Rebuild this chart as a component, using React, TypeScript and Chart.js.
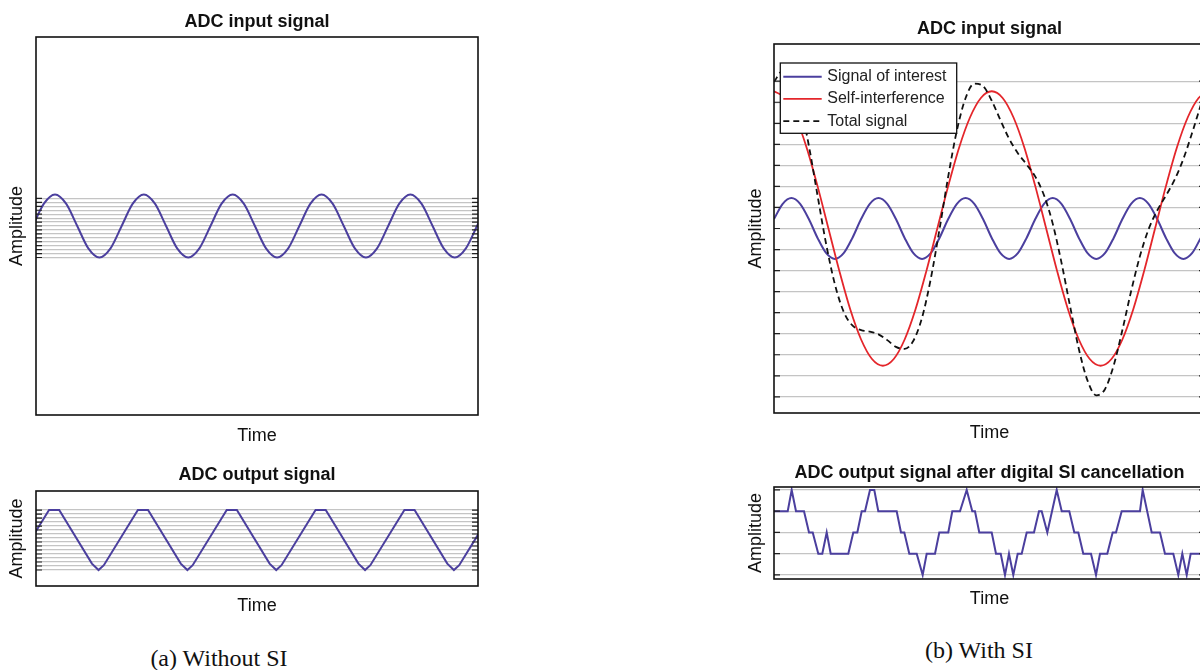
import React, { useEffect, useRef } from 'react';
import { Chart, registerables } from 'chart.js';

Chart.register(...registerables);

// ---------------- DATA ----------------
// (a) ADC input signal (time 0..100 across the plot)
const inputTime = [-0.73, 1.79, 4.3, 6.81, 9.33, 11.84, 14.35, 16.86, 19.38, 21.89, 24.4, 26.91, 29.43, 31.94, 34.45, 36.96, 39.48, 41.99, 44.5, 47.01, 49.53, 52.04, 54.55, 57.06, 59.58, 62.09, 64.6, 67.11, 69.63, 72.14, 74.65, 77.16, 79.68, 82.19, 84.7, 87.21, 89.73, 92.24, 94.75, 97.26, 99.78, 102.29];
const inputAmp = [0, 0.71, 1, 0.71, 0, -0.71, -1, -0.71, 0, 0.71, 1, 0.71, 0, -0.71, -1, -0.71, 0, 0.71, 1, 0.71, 0, -0.71, -1, -0.71, 0, 0.71, 1, 0.71, 0, -0.71, -1, -0.71, 0, 0.71, 1, 0.71, 0, -0.71, -1, -0.71, 0, 0.71];

// (a) ADC output signal
const outputTime = [-7.45, -5.95, -4.75, 2.95, 5.25, 12.65, 14.15, 15.35, 23.05, 25.35, 32.75, 34.25, 35.45, 43.15, 45.45, 52.85, 54.35, 55.55, 63.25, 65.55, 72.95, 74.45, 75.65, 83.35, 85.65, 93.05, 94.55, 95.75, 103.45];
const outputAmp = [-0.8, -1, -0.85, 0.875, 0.875, -0.8, -1, -0.85, 0.875, 0.875, -0.8, -1, -0.85, 0.875, 0.875, -0.8, -1, -0.85, 0.875, 0.875, -0.8, -1, -0.85, 0.875, 0.875, -0.8, -1, -0.85, 0.875];

// ADC quantisation levels, panel (a)
const levelsA = [-1, -0.875, -0.75, -0.625, -0.5, -0.375, -0.25, -0.125, 0, 0.125, 0.25, 0.375, 0.5, 0.625, 0.75, 0.875];

// (b) ADC input signal with SI
const siTime = [0, 2, 4, 6, 8, 10, 12, 14, 16, 18, 20, 22, 24, 26, 28, 30, 32, 34, 36, 38, 40, 42, 44, 46, 48, 50, 52, 54, 56, 58, 60, 62, 64, 66, 68, 70, 72, 74, 76, 78, 80, 82, 84, 86, 88, 90, 92, 94, 96, 98];
const signalOfInterest = [0.31, 0.81, 1, 0.81, 0.31, -0.31, -0.81, -1, -0.81, -0.31, 0.31, 0.81, 1, 0.81, 0.31, -0.31, -0.81, -1, -0.81, -0.31, 0.31, 0.81, 1, 0.81, 0.31, -0.31, -0.81, -1, -0.81, -0.31, 0.31, 0.81, 1, 0.81, 0.31, -0.31, -0.81, -1, -0.81, -0.31, 0.31, 0.81, 1, 0.81, 0.31, -0.31, -0.81, -1, -0.81, -0.31];
const siRedTime = [0, 2.5, 5, 7.5, 10, 12.5, 15, 17.5, 20, 22.5, 25, 27.5, 30, 32.5, 35, 37.5, 40, 42.5, 45, 47.5, 50, 52.5, 55, 57.5, 60, 62.5, 65, 67.5, 70, 72.5, 75, 77.5, 80, 82.5, 85, 87.5, 90, 92.5, 95, 97.5, 100];
const selfInterference = [4.5, 4.28, 3.64, 2.65, 1.39, 0, -1.39, -2.65, -3.64, -4.28, -4.5, -4.28, -3.64, -2.65, -1.39, 0, 1.39, 2.65, 3.64, 4.28, 4.5, 4.28, 3.64, 2.65, 1.39, 0, -1.39, -2.65, -3.64, -4.28, -4.5, -4.28, -3.64, -2.65, -1.39, 0, 1.39, 2.65, 3.64, 4.28, 4.5];
const totalSignal = [4.81, 5.17, 4.94, 4.09, 2.72, 1.08, -0.53, -1.84, -2.73, -3.18, -3.33, -3.38, -3.47, -3.66, -3.88, -3.95, -3.68, -2.92, -1.65, -0.03, 1.7, 3.22, 4.28, 4.75, 4.67, 4.19, 3.55, 2.94, 2.47, 2.1, 1.7, 1.09, 0.16, -1.11, -2.56, -3.95, -4.99, -5.47, -5.27, -4.49, -3.33, -2.06, -0.92, -0.03, 0.59, 1.08, 1.6, 2.28, 3.13, 4.05];
const levelsC = [-5.52, -4.83, -4.14, -3.45, -2.76, -2.07, -1.38, -0.69, 0, 0.69, 1.38, 2.07, 2.76, 3.45, 4.14, 4.83];
const seriesLabels = ['Signal of interest', 'Self-interference', 'Total signal'];

// (b) ADC output after digital SI cancellation
const siOutTime = [0, 3.15, 4.06, 5.05, 6.89, 8.04, 8.89, 10.17, 11.09, 12.1, 13.02, 17.06, 18.21, 19.13, 20.14, 20.9, 22.04, 23.03, 23.95, 28.17, 29.16, 29.92, 31.07, 32.77, 34.14, 35.06, 36.97, 37.96, 40.02, 40.94, 42.71, 44.25, 45.53, 46.15, 47.14, 49.99, 50.98, 52.06, 53.04, 53.96, 54.95, 55.96, 56.88, 58.03, 59.7, 60.85, 61.47, 62.76, 64.92, 66.07, 67.81, 68.96, 69.88, 71.02, 72.79, 73.94, 74.86, 76.53, 77.77, 78.53, 79.84, 84.04, 84.66, 86.73, 88.63, 89.78, 91.69, 92.84, 93.76, 94.77, 95.68, 99];
const siOutLevel = [1, 1, 2, 1, 1, 0, 0, -1, -1, 0, -1, -1, 0, 0, 1, 1, 2, 2, 1, 1, 0, 0, -1, -1, -2, -1, -1, 0, 0, 1, 1, 2, 1, 1, 0, 0, -1, -1, -2, -1, -2, -1, -1, 0, 0, 1, 1, 0, 2, 1, 1, 0, 0, -1, -1, -2, -1, -1, 0, 0, 1, 1, 2, 0, 0, -1, -1, -2, -1, -2, -1, -1];
const levelsD = [-2, -1, 0, 1, 2];

const titles = ['ADC input signal', 'ADC output signal', 'ADC input signal', 'ADC output signal after digital SI cancellation'];
const captions = ['(a) Without SI', '(b) With SI'];

// ---------------- STYLE ----------------
const FONT = '"Liberation Sans", Arial, Helvetica, sans-serif';
const BLUE = '#4b3f9e';
const RED = '#e4262b';
const GRID = '#c4c4c4';

const pts = (xs: number[], ys: number[]) => xs.map((x, i) => ({ x, y: ys[i] }));

const framePlugin = {
  id: 'frameTicks',
  afterDraw(chart: any, _args: any, opts: any) {
    const { ctx, chartArea } = chart;
    const { left, right, top, bottom } = chartArea;
    const ys = chart.scales.y;
    ctx.save();
    ctx.strokeStyle = '#222';
    ctx.lineWidth = 1.2;
    const tl = 6;
    for (const v of opts.levels as number[]) {
      const py = ys.getPixelForValue(v);
      ctx.beginPath();
      ctx.moveTo(left, py);
      ctx.lineTo(left + tl, py);
      ctx.moveTo(right - tl, py);
      ctx.lineTo(right, py);
      ctx.stroke();
    }
    const L = opts.legend;
    if (L) {
      const bx = left + L.dx;
      const by = top + L.dy;
      ctx.fillStyle = '#fff';
      ctx.fillRect(bx, by, L.w, L.h);
      ctx.strokeStyle = '#111';
      ctx.lineWidth = 1.3;
      ctx.strokeRect(bx, by, L.w, L.h);
      chart.data.datasets.forEach((ds: any, i: number) => {
        const cy = by + L.firstRow + i * L.rowH;
        ctx.beginPath();
        ctx.setLineDash(ds.borderDash || []);
        ctx.strokeStyle = ds.borderColor;
        ctx.lineWidth = ds.borderWidth;
        ctx.moveTo(bx + L.sx, cy);
        ctx.lineTo(bx + L.sx + L.sw, cy);
        ctx.stroke();
        ctx.setLineDash([]);
        ctx.fillStyle = '#222';
        ctx.font = '16px ' + FONT;
        ctx.textBaseline = 'middle';
        ctx.textAlign = 'left';
        ctx.fillText(ds.label, bx + L.tx, cy);
      });
    }
    ctx.strokeStyle = '#111';
    ctx.lineWidth = 1.6;
    ctx.strokeRect(left, top, right - left, bottom - top);
    ctx.restore();
  },
};

type Spec = {
  datasets: any[];
  title: string;
  titlePad: [number, number];
  xPad: [number, number];
  yPad: [number, number];
  padRight: number;
  xMin: number;
  xMax: number;
  yMin: number;
  yMax: number;
  levels: number[];
  legend?: any;
};

function buildConfig(p: Spec): any {
  return {
    type: 'line',
    data: { datasets: p.datasets },
    options: {
      animation: false,
      responsive: true,
      maintainAspectRatio: false,
      events: [],
      layout: { padding: { left: 0, right: p.padRight, top: 0, bottom: 0 } },
      plugins: {
        legend: { display: false },
        tooltip: { enabled: false },
        title: {
          display: true,
          text: p.title,
          fullSize: false,
          color: '#111',
          font: { family: FONT, size: 18, weight: 'bold', lineHeight: 1.2 },
          padding: { top: p.titlePad[0], bottom: p.titlePad[1] },
        },
        frameTicks: { levels: p.levels, legend: p.legend },
      },
      scales: {
        x: {
          type: 'linear',
          min: p.xMin,
          max: p.xMax,
          ticks: { display: false },
          grid: { display: false, drawTicks: false },
          border: { display: false },
          title: {
            display: true,
            text: 'Time',
            color: '#111',
            font: { family: FONT, size: 18, lineHeight: 1.2 },
            padding: { top: p.xPad[0], bottom: p.xPad[1] },
          },
        },
        y: {
          type: 'linear',
          min: p.yMin,
          max: p.yMax,
          afterBuildTicks: (s: any) => {
            s.ticks = p.levels.map((v) => ({ value: v }));
          },
          ticks: { display: false, autoSkip: false },
          grid: { color: GRID, lineWidth: 1.2, drawTicks: false },
          border: { display: false },
          title: {
            display: true,
            text: 'Amplitude',
            color: '#111',
            font: { family: FONT, size: 18, lineHeight: 1.2 },
            padding: { top: p.yPad[0], bottom: p.yPad[1] },
          },
        },
      },
    },
    plugins: [framePlugin],
  };
}

function Panel(props: { left: number; top: number; width: number; height: number; spec: Spec }) {
  const ref = useRef<HTMLCanvasElement>(null);
  useEffect(() => {
    if (!ref.current) return;
    const chart = new Chart(ref.current, buildConfig(props.spec));
    return () => chart.destroy();
  }, []);
  return (
    <div style={{ position: 'absolute', left: props.left, top: props.top, width: props.width, height: props.height }}>
      <canvas ref={ref} />
    </div>
  );
}

const specA: Spec = {
  datasets: [
    { label: 'ADC input', data: pts(inputTime, inputAmp), borderColor: BLUE, borderWidth: 2, pointRadius: 0, cubicInterpolationMode: 'monotone', fill: false },
  ],
  title: titles[0],
  titlePad: [10.9, 4.5],
  xPad: [10.2, 4.2],
  yPad: [6, 8.4],
  padRight: 12,
  xMin: 0,
  xMax: 100,
  yMin: -6,
  yMax: 6,
  levels: levelsA,
};

const specB: Spec = {
  datasets: [
    { label: 'ADC output', data: pts(outputTime, outputAmp), borderColor: BLUE, borderWidth: 2, pointRadius: 0, tension: 0, fill: false },
  ],
  title: titles[1],
  titlePad: [13.2, 5.2],
  xPad: [9.2, 4.2],
  yPad: [6, 8.4],
  padRight: 12,
  xMin: 0,
  xMax: 100,
  yMin: -1.5,
  yMax: 1.47,
  levels: levelsA,
};

const specC: Spec = {
  datasets: [
    { label: seriesLabels[0], data: pts(siTime, signalOfInterest), borderColor: BLUE, borderWidth: 2, pointRadius: 0, cubicInterpolationMode: 'monotone', fill: false, order: 2 },
    { label: seriesLabels[1], data: pts(siRedTime, selfInterference), borderColor: RED, borderWidth: 1.8, pointRadius: 0, cubicInterpolationMode: 'monotone', fill: false, order: 1 },
    { label: seriesLabels[2], data: pts(siTime, totalSignal), borderColor: '#111', borderWidth: 1.8, borderDash: [6, 4], pointRadius: 0, cubicInterpolationMode: 'monotone', fill: false, order: 0 },
  ],
  title: titles[2],
  titlePad: [18.6, 3.8],
  xPad: [9.7, 4],
  yPad: [5.7, 6.7],
  padRight: 10,
  xMin: 0,
  xMax: 98.97,
  yMin: -6.05,
  yMax: 6.05,
  levels: levelsC,
  legend: { dx: 6.3, dy: 19, w: 176.4, h: 70.3, firstRow: 13.7, rowH: 22.2, sx: 3, sw: 38.4, tx: 47 },
};

const specD: Spec = {
  datasets: [
    { label: 'ADC output', data: pts(siOutTime, siOutLevel), borderColor: BLUE, borderWidth: 2, pointRadius: 0, tension: 0, fill: false },
  ],
  title: titles[3],
  titlePad: [12.9, 3.5],
  xPad: [9.6, 4],
  yPad: [5.7, 6.7],
  padRight: 10,
  xMin: 0,
  xMax: 98.97,
  yMin: -2.19,
  yMax: 2.14,
  levels: levelsD,
};

const captionStyle: React.CSSProperties = {
  position: 'absolute',
  width: 300,
  textAlign: 'center',
  fontFamily: '"Liberation Serif", "DejaVu Serif", serif',
  fontSize: 24,
  lineHeight: '24px',
  color: '#111',
  whiteSpace: 'nowrap',
};

export default function App() {
  return (
    <div style={{ position: 'absolute', left: 0, top: 0, width: 1200, height: 670, overflow: 'hidden', background: '#fff' }}>
      <Panel left={0} top={0} width={490} height={451} spec={specA} />
      <Panel left={0} top={451} width={490} height={170} spec={specB} />
      <Panel left={740} top={0} width={475} height={448.3} spec={specC} />
      <Panel left={740} top={449} width={475} height={165.2} spec={specD} />
      <div style={{ ...captionStyle, left: 69, top: 646 }}>{captions[0]}</div>
      <div style={{ ...captionStyle, left: 829, top: 638 }}>{captions[1]}</div>
    </div>
  );
}
